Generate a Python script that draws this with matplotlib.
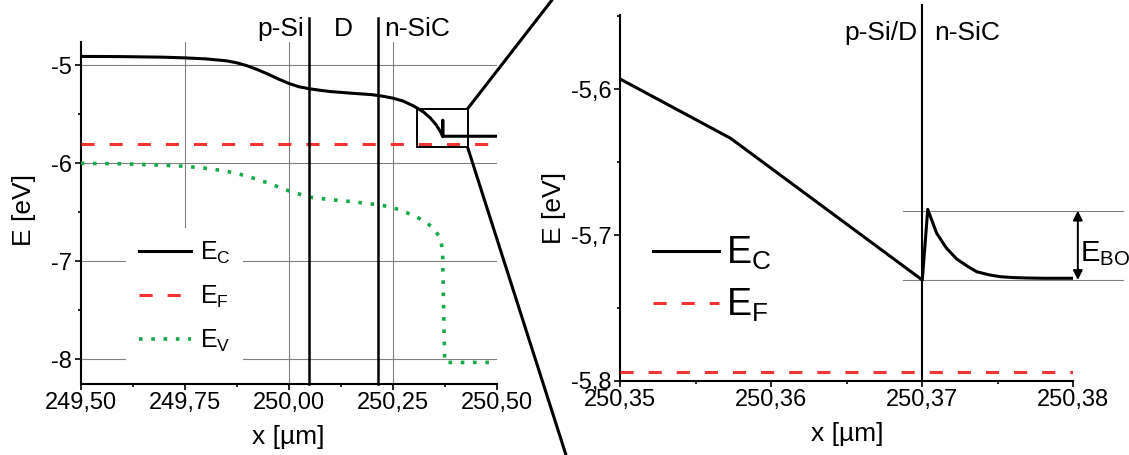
import matplotlib
matplotlib.use('Agg')
import matplotlib.pyplot as plt
from matplotlib.ticker import FuncFormatter, MultipleLocator
from matplotlib.patches import Rectangle, ConnectionPatch

plt.rcParams['font.family'] = ['Liberation Sans', 'DejaVu Sans']
plt.rcParams['mathtext.default'] = 'regular'

# ---- data, overview (left) ----
x_ec = [249.50, 249.60, 249.70, 249.75, 249.80, 249.85, 249.875, 249.90, 249.925,
        249.95, 249.975, 250.00, 250.025, 250.05, 250.075, 250.10, 250.15, 250.20,
        250.225, 250.25, 250.275, 250.30, 250.31, 250.325, 250.34, 250.355, 250.365,
        250.37, 250.3703, 250.3706, 250.38, 250.50]
e_c = [-4.91, -4.912, -4.918, -4.925, -4.935, -4.955, -4.975, -5.005, -5.045,
       -5.09, -5.14, -5.185, -5.22, -5.24, -5.255, -5.268, -5.285, -5.30,
       -5.315, -5.335, -5.365, -5.415, -5.44, -5.48, -5.536, -5.61, -5.68,
       -5.724, -5.56, -5.724, -5.724, -5.724]

x_ev = [249.50, 249.60, 249.70, 249.75, 249.80, 249.85, 249.90, 249.95, 250.00,
        250.05, 250.10, 250.15, 250.22, 250.25, 250.30, 250.33, 250.35,
        250.362, 250.368, 250.370, 250.372, 250.375, 250.383, 250.50]
e_v = [-6.00, -6.005, -6.02, -6.03, -6.05, -6.08, -6.13, -6.20, -6.28,
       -6.345, -6.37, -6.39, -6.425, -6.45, -6.53, -6.60, -6.67,
       -6.75, -6.84, -6.92, -7.40, -8.03, -8.03, -8.03]

x_ef = [249.50, 250.50]
e_f = [-5.80, -5.80]

# interfaces and zoom box
iface_left = [250.049, 250.215]
zoom_box = (250.309, -5.836, 250.430, -5.444)   # x0, y0, x1, y1

# ---- data, zoom (right) ----
x_ec_z = [250.350, 250.3573, 250.370, 250.37036, 250.37095, 250.37160, 250.37228,
          250.3730, 250.3736, 250.3744, 250.37515, 250.3760, 250.3769, 250.3780, 250.380]
e_c_z = [-5.593, -5.6336, -5.7309, -5.6824, -5.6988, -5.7090, -5.7165,
         -5.7215, -5.7252, -5.7273, -5.7286, -5.7292, -5.7295, -5.7297, -5.7297]
x_ef_z = [250.350, 250.380]
e_f_z = [-5.794, -5.794]
iface_right = 250.370
ebo_top, ebo_bot = -5.6833, -5.7309

black = 'black'
red = '#f03434'
green = '#17a84a'
gray = '#808080'
tick_fs = 17
lab_fs = 19
top_fs = 19

fig = plt.figure(figsize=(11.29, 4.55), dpi=100)
W, H = 1129.0, 455.0
ax1 = fig.add_axes([80.7 / W, 1 - 384 / H, 416 / W, 342.3 / H])
ax2 = fig.add_axes([620.3 / W, 1 - 380.7 / H, 453 / W, 365.7 / H])

for ax in (ax1, ax2):
    ax.spines['top'].set_visible(False)
    ax.spines['right'].set_visible(False)
    ax.spines['left'].set_linewidth(1.5)
    ax.spines['bottom'].set_linewidth(1.5)
    ax.tick_params(which='major', direction='out', length=4, width=1.2, labelsize=tick_fs, pad=2)
    ax.tick_params(which='minor', direction='out', length=2.5, width=1.2)

# ---------------- left panel ----------------
leg_top = 0.457
ax1.set_xlim(249.5, 250.5)
ax1.set_ylim(-8.25, -4.76)
for yv in [-5, -6, -7, -8]:
    ax1.axhline(yv, color=gray, lw=0.8, zorder=1)
ax1.axvline(249.75, ymin=leg_top, color=gray, lw=0.8, zorder=1)
for xv in [250.0, 250.25]:
    ax1.axvline(xv, color=gray, lw=0.8, zorder=1)

ax1.plot(x_ec, e_c, color=black, lw=2.2, label=r'$E_C$', zorder=3)
ax1.plot(x_ef, e_f, color=red, lw=2.2, ls=(0, (4.3, 4.9)), label=r'$E_F$', zorder=3)
ax1.plot(x_ev, e_v, color=green, lw=2.6, ls=(0, (1, 2.4)), label=r'$E_V$', zorder=3)

for xv in iface_left:
    ax1.axvline(xv, ymin=0, ymax=1.07, color=black, lw=1.8, clip_on=False, zorder=4)

trans1 = ax1.get_xaxis_transform()
ax1.text(250.037, 1.0175, 'p-Si', ha='right', va='baseline', fontsize=top_fs, transform=trans1)
ax1.text(250.131, 1.0175, 'D', ha='center', va='baseline', fontsize=top_fs, transform=trans1)
ax1.text(250.229, 1.0175, 'n-SiC', ha='left', va='baseline', fontsize=top_fs, transform=trans1)

x0, y0, x1, y1 = zoom_box
ax1.add_patch(Rectangle((x0, y0), x1 - x0, y1 - y0, fill=False, edgecolor=black, lw=1.4, zorder=4))

ax1.xaxis.set_major_locator(MultipleLocator(0.25))
ax1.xaxis.set_minor_locator(MultipleLocator(0.125))
ax1.yaxis.set_major_locator(MultipleLocator(1))
ax1.yaxis.set_minor_locator(MultipleLocator(0.5))
ax1.xaxis.set_major_formatter(FuncFormatter(lambda v, p: f'{v:.2f}'.replace('.', ',')))
ax1.yaxis.set_major_formatter(FuncFormatter(lambda v, p: f'{v:.0f}'))
ax1.set_xlabel('x [µm]', fontsize=lab_fs, labelpad=8)
ax1.set_ylabel('E [eV]', fontsize=lab_fs)
ax1.yaxis.set_label_coords(-0.108, 0.508)

leg1 = ax1.legend(loc='upper left', bbox_to_anchor=(0.109, leg_top), frameon=True,
                  facecolor='white', edgecolor='none', framealpha=1, fancybox=False,
                  fontsize=18, handlelength=2.1, handletextpad=0.35, labelspacing=0.7,
                  borderpad=0.5, borderaxespad=0)

# connector lines from the zoom box to the right panel
for ycorner, target in [(y1, (552 / W, 1.0)), (y0, (566 / W, 0.0))]:
    con = ConnectionPatch(xyA=(x1, ycorner), coordsA=ax1.transData,
                          xyB=target, coordsB='figure fraction',
                          color=black, lw=2.2)
    fig.add_artist(con)

# ---------------- right panel ----------------
ax2.set_xlim(250.35, 250.38)
ax2.set_ylim(-5.8, -5.549)
ax2.plot(x_ec_z, e_c_z, color=black, lw=2.2, label=r'$E_C$', zorder=3)
ax2.plot(x_ef_z, e_f_z, color=red, lw=2.2, ls=(0, (4.3, 4.9)), label=r'$E_F$', zorder=3)
ax2.axvline(iface_right, ymin=0, ymax=1.027, color=black, lw=1.5, clip_on=False, zorder=4)

for yv in (ebo_top, ebo_bot):
    ax2.plot([250.3687, 250.3833], [yv, yv], color=gray, lw=0.8, clip_on=False, zorder=1)
ax2.annotate('', xy=(250.3803, ebo_top), xytext=(250.3803, ebo_bot),
             arrowprops=dict(arrowstyle='<|-|>', color=black, lw=1.4,
                             mutation_scale=14, shrinkA=0, shrinkB=0),
             annotation_clip=False)
ax2.text(250.38045, -5.7178, r'$E_{BO}$', ha='left', va='baseline', fontsize=21, clip_on=False)

trans2 = ax2.get_xaxis_transform()
ax2.text(250.3697, 0.9316, 'p-Si/D', ha='right', va='baseline', fontsize=top_fs, transform=trans2)
ax2.text(250.3708, 0.9316, 'n-SiC', ha='left', va='baseline', fontsize=top_fs, transform=trans2)

ax2.xaxis.set_major_locator(MultipleLocator(0.01))
ax2.xaxis.set_minor_locator(MultipleLocator(0.005))
ax2.yaxis.set_major_locator(MultipleLocator(0.1))
ax2.yaxis.set_minor_locator(MultipleLocator(0.05))
ax2.xaxis.set_major_formatter(FuncFormatter(lambda v, p: f'{v:.2f}'.replace('.', ',')))
ax2.yaxis.set_major_formatter(FuncFormatter(lambda v, p: f'{v:.1f}'.replace('.', ',')))
ax2.set_xlabel('x [µm]', fontsize=lab_fs, labelpad=8)
ax2.set_ylabel('E [eV]', fontsize=lab_fs)
ax2.yaxis.set_label_coords(-0.12, 0.472)

leg2 = ax2.legend(loc='upper left', bbox_to_anchor=(0.048, 0.43), frameon=False,
                  fontsize=27, handlelength=1.75, handletextpad=0.2, labelspacing=0.4,
                  borderpad=0.3, borderaxespad=0)

fig.savefig('out.png', dpi=100)
